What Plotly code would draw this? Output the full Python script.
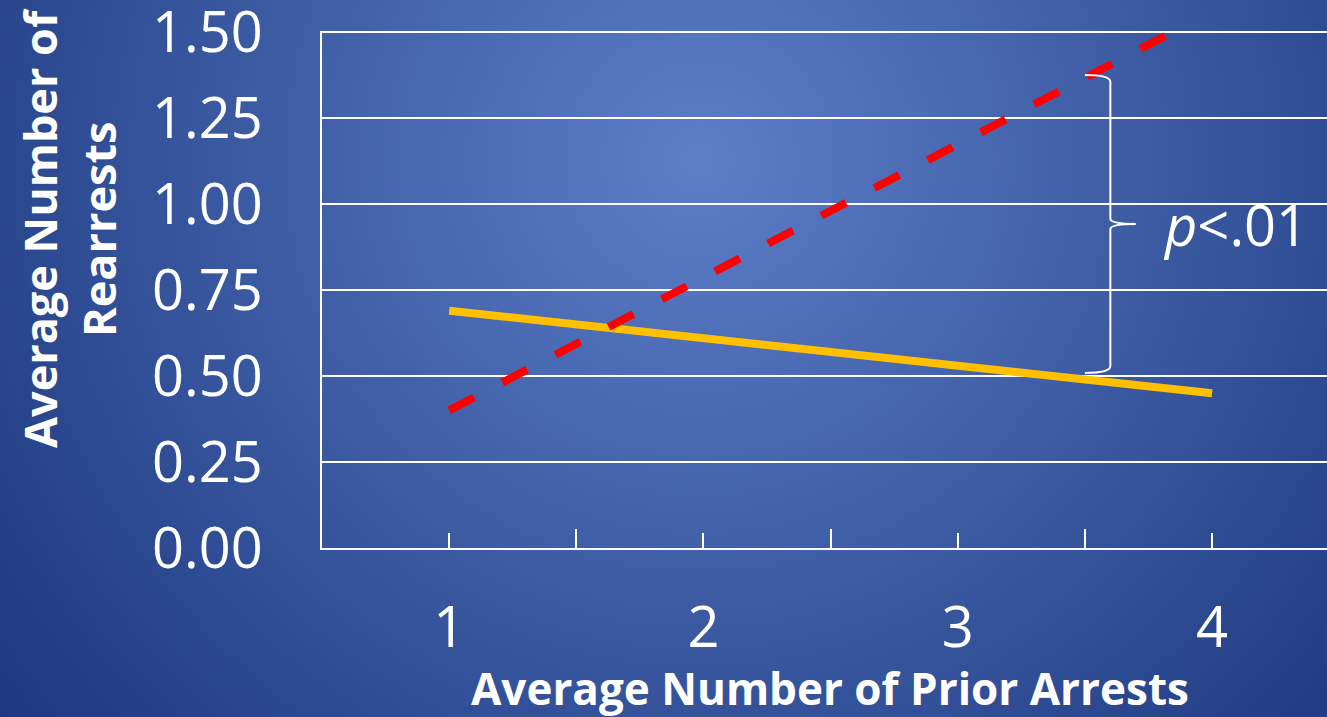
import base64
import struct
import zlib

import numpy as np
import plotly.graph_objects as go

# ---- data -------------------------------------------------------------
prior_arrests = [1, 4]
group_a_rearrests = [0.69, 0.45]   # solid gold line
group_b_rearrests = [0.40, 1.56]   # dashed red line

x_tick_vals = [1, 2, 3, 4]
x_tick_text = ["1", "2", "3", "4"]
y_tick_vals = [0.0, 0.25, 0.5, 0.75, 1.0, 1.25, 1.5]
y_tick_text = ["0.00", "0.25", "0.50", "0.75", "1.00", "1.25", "1.50"]

# bracket between the two lines at x = 3.5
brace_x = 3.6
brace_top = 1.375
brace_bottom = 0.509
brace_mid = 0.942
sig_label = "<i>p</i>&lt;.01"

# ---- figure geometry ---------------------------------------------------
W, H = 1327, 717
Y_TOP = 1.503
M_L, M_R, M_T, M_B = 322, 0, 31, 169
PW, PH = W - M_L - M_R, H - M_T - M_B
FONT = "Open Sans"


def gradient_png(w, h, scale):
    """Radial blue background, returned as a PNG data URI."""
    ys, xs = np.mgrid[0:h, 0:w].astype(float)
    xs = (xs + 0.5) * scale
    ys = (ys + 0.5) * scale
    d = np.sqrt((xs - 700.0) ** 2 + (ys - 160.0) ** 2)
    t = np.clip(d / 900.0, 0, 1)[..., None]
    c0 = np.array([92, 126, 200], float)
    c1 = np.array([28, 56, 126], float)
    img = (c0 * (1 - t) + c1 * t).round().astype(np.uint8)
    raw = b"".join(b"\x00" + row.tobytes() for row in img)

    def chunk(tag, data):
        c = struct.pack(">I", len(data)) + tag + data
        return c + struct.pack(">I", zlib.crc32(tag + data) & 0xFFFFFFFF)

    png = b"\x89PNG\r\n\x1a\n"
    png += chunk(b"IHDR", struct.pack(">IIBBBBB", w, h, 8, 2, 0, 0, 0))
    png += chunk(b"IDAT", zlib.compress(raw, 9))
    png += chunk(b"IEND", b"")
    return "data:image/png;base64," + base64.b64encode(png).decode()


fig = go.Figure()

fig.add_trace(go.Scatter(
    x=prior_arrests, y=group_a_rearrests, mode="lines",
    line=dict(color="#FFC000", width=8),
    showlegend=False, hoverinfo="skip",
))
fig.add_trace(go.Scatter(
    x=prior_arrests, y=group_b_rearrests, mode="lines",
    line=dict(color="#FF0000", width=8, dash="28px,32px"),
    showlegend=False, hoverinfo="skip",
))

# curly bracket marking the gap at x = 3.5
bx0 = 3.5
tip = brace_x + 0.10
path = (
    f"M {bx0},{brace_top} "
    f"Q {brace_x},{brace_top} {brace_x},{brace_top - 0.02} "
    f"L {brace_x},{brace_mid + 0.015} "
    f"Q {brace_x},{brace_mid} {tip},{brace_mid} "
    f"Q {brace_x},{brace_mid} {brace_x},{brace_mid - 0.015} "
    f"L {brace_x},{brace_bottom + 0.02} "
    f"Q {brace_x},{brace_bottom} {bx0},{brace_bottom}"
)
fig.add_shape(type="path", path=path, xref="x", yref="y",
              line=dict(color="white", width=2))

fig.add_annotation(
    x=3.80, y=brace_mid, xref="x", yref="y", text=sig_label,
    showarrow=False, xanchor="left", yanchor="middle",
    font=dict(family=FONT, size=56, color="white"),
)

# axis titles
fig.add_annotation(
    x=(69 - M_L) / PW, y=(M_T + PH - 228) / PH, xref="paper", yref="paper",
    text="<b>Average Number of<br>Rearrests</b>", textangle=-90,
    showarrow=False, xanchor="center", yanchor="middle",
    font=dict(family=FONT, size=45, color="white"),
)
fig.add_annotation(
    x=(830 - M_L) / PW, y=(M_T + PH - 688) / PH, xref="paper", yref="paper",
    text="<b>Average Number of Prior Arrests</b>",
    showarrow=False, xanchor="center", yanchor="middle",
    font=dict(family=FONT, size=44, color="white"),
)

fig.add_layout_image(dict(
    source=gradient_png(332, 180, 4.0),
    xref="paper", yref="paper",
    x=-M_L / PW, y=1 + M_T / PH,
    sizex=W / PW, sizey=H / PH,
    xanchor="left", yanchor="top",
    sizing="stretch", layer="below",
))

fig.update_layout(
    width=W, height=H,
    margin=dict(l=M_L, r=M_R, t=M_T, b=M_B, pad=0, autoexpand=False),
    paper_bgcolor="#2c4a94",
    plot_bgcolor="rgba(0,0,0,0)",
    font=dict(family=FONT, color="white"),
    xaxis=dict(
        range=[0.5, 4.452], tickvals=x_tick_vals, ticktext=x_tick_text,
        showgrid=False, zeroline=False, automargin=False,
        showline=True, linecolor="white", linewidth=2,
        ticks="inside", ticklen=15, tickwidth=2, tickcolor="white",
        minor=dict(tickvals=[1.5, 2.5, 3.5], ticks="inside", ticklen=19,
                   tickwidth=2, tickcolor="white", showgrid=False),
        tickfont=dict(family=FONT, size=56, color="white"),
        ticklabelstandoff=30,
        ticklabeloverflow="allow",
    ),
    yaxis=dict(
        range=[0, Y_TOP], tickvals=y_tick_vals, ticktext=y_tick_text,
        showgrid=True, gridcolor="white", gridwidth=2, zeroline=False,
        automargin=False,
        showline=True, linecolor="white", linewidth=2,
        ticks="", tickfont=dict(family=FONT, size=56, color="white"),
        ticklabelstandoff=46,
        ticklabeloverflow="allow",
    ),
)

fig.write_html("out.html")
